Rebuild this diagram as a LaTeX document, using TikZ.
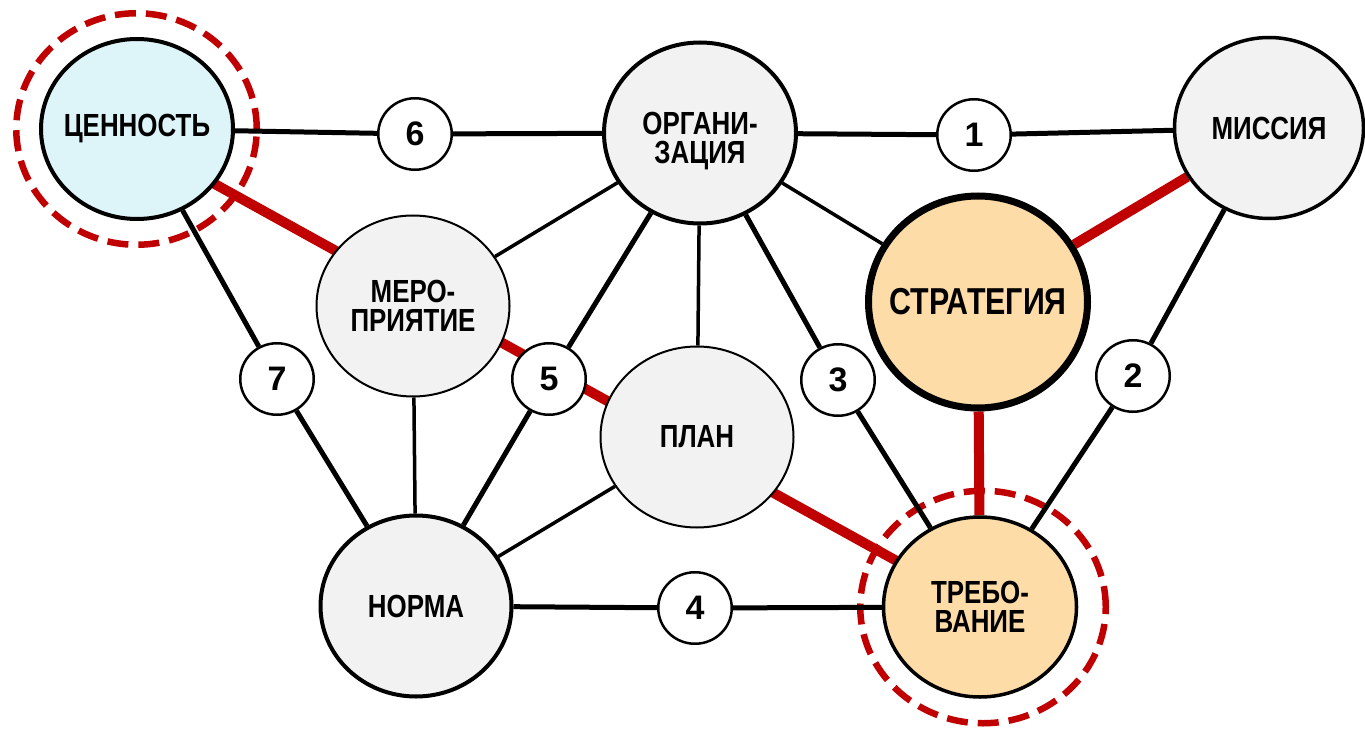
\documentclass[tikz,border=0pt]{standalone}
\usepackage{fontspec}
\setmainfont{Liberation Sans}
\newfontfamily\lblfont[FakeStretch=0.81]{Liberation Sans}
\usetikzlibrary{shapes.geometric}

\definecolor{rred}{HTML}{C00000}
\definecolor{nodegray}{HTML}{F2F2F2}
\definecolor{iceblue}{HTML}{DDF4F8}
\definecolor{peach}{HTML}{FDDCA8}

\pgfdeclarelayer{paper}
\pgfdeclarelayer{rings}
\pgfdeclarelayer{edges}
\pgfsetlayers{paper,rings,edges,main}

% zero-width box so the text never enlarges the ellipse
\newcommand\zw[1]{\makebox[0pt]{#1}}

\tikzset{
  concept/.style={ellipse, draw=black, fill=nodegray, inner sep=0pt,
    align=center, text=black,
    font=\lblfont\bfseries\fontsize{32}{29}\selectfont},
  num/.style={ellipse, draw=black, fill=white, line width=2.5pt,
    minimum width=73.5pt, minimum height=71.5pt, inner sep=0pt,
    font=\bfseries\fontsize{34}{34}\selectfont},
  ring/.style={ellipse, draw=rred, line width=6.5pt,
    dash pattern=on 21pt off 10pt, inner sep=0pt},
  link/.style={draw=black, line width=5pt},
  thinlink/.style={draw=black, line width=3.5pt},
  redlink/.style={draw=rred, line width=10pt},
}

\begin{document}
\begin{tikzpicture}[x=1pt, y=-1pt]
\useasboundingbox (0,0) rectangle (1365,730);
\begin{pgfonlayer}{paper}
  \fill[white] (0,0) rectangle (1365,730);
\end{pgfonlayer}

% concept nodes
\node[concept, fill=iceblue, line width=4pt, minimum width=192pt, minimum height=180pt]
  (cen) at (137,129) {\zw{ЦЕННОСТЬ}};
\node[concept, line width=4pt, minimum width=192pt, minimum height=181pt]
  (org) at (700,133) {\strut\\[-14pt]\zw{ОРГАНИ-}\\\zw{ЗАЦИЯ}};
\node[concept, line width=3.5pt, minimum width=189pt, minimum height=181pt]
  (mis) at (1269,128) {\zw{МИССИЯ}};
\node[concept, line width=2pt, minimum width=193pt, minimum height=181pt]
  (mero) at (413,306) {\zw{МЕРО-}\\\zw{ПРИЯТИЕ}};
\node[concept, fill=peach, line width=7pt, minimum width=219pt, minimum height=212pt,
  font=\lblfont\bfseries\fontsize{37.5}{37.5}\selectfont]
  (strat) at (978,302) {\zw{СТРАТЕГИЯ}};
\node[concept, line width=2pt, minimum width=193pt, minimum height=181pt]
  (plan) at (697,437) {\zw{ПЛАН}};
\node[concept, line width=4pt, minimum width=191pt, minimum height=181pt]
  (norma) at (416,606) {\zw{НОРМА}};
\node[concept, fill=peach, line width=3.5pt, minimum width=193pt, minimum height=180pt]
  (treb) at (980,607) {\zw{ТРЕБО-}\\\zw{ВАНИЕ}};

% numbered links
\node[num] (n6) at (415,134) {6};
\node[num] (n1) at (974,135) {1};
\node[num] (n7) at (277,379) {7};
\node[num] (n5) at (549,379) {5};
\node[num] (n3) at (838,380) {3};
\node[num] (n2) at (1133,376) {2};
\node[num] (n4) at (695,608) {4};

% dashed highlight rings
\begin{pgfonlayer}{rings}
  \node[ring, minimum width=240.5pt, minimum height=231.5pt] (cen-ring) at (136.5,129) {};
  \node[ring, minimum width=245.5pt, minimum height=232.5pt] (treb-ring) at (983,607) {};
\end{pgfonlayer}

% connectors (drawn beneath the nodes)
\begin{pgfonlayer}{edges}
  \draw[link] (cen) -- (n6) -- (org);
  \draw[link] (org) -- (n1) -- (mis);
  \draw[link] (cen) -- (n7) -- (norma);
  \draw[link] (org) -- (n5) -- (norma);
  \draw[link] (org) -- (n3) -- (treb);
  \draw[link] (mis) -- (n2) -- (treb);
  \draw[link] (norma) -- (n4) -- (treb);
  \draw[thinlink] (org) -- (mero);
  \draw[thinlink] (org) -- (plan);
  \draw[thinlink] (org) -- (strat);
  \draw[thinlink] (mero) -- (norma);
  \draw[thinlink] (plan) -- (norma);
  % the long red path runs under МЕРОПРИЯТИЕ, 5 and ПЛАН
  \draw[redlink] ([yshift=-12pt]cen.center) -- (treb.center);
  \draw[redlink] (strat) -- (mis);
  \draw[redlink] (strat) -- (treb);
\end{pgfonlayer}
\end{tikzpicture}
\end{document}
